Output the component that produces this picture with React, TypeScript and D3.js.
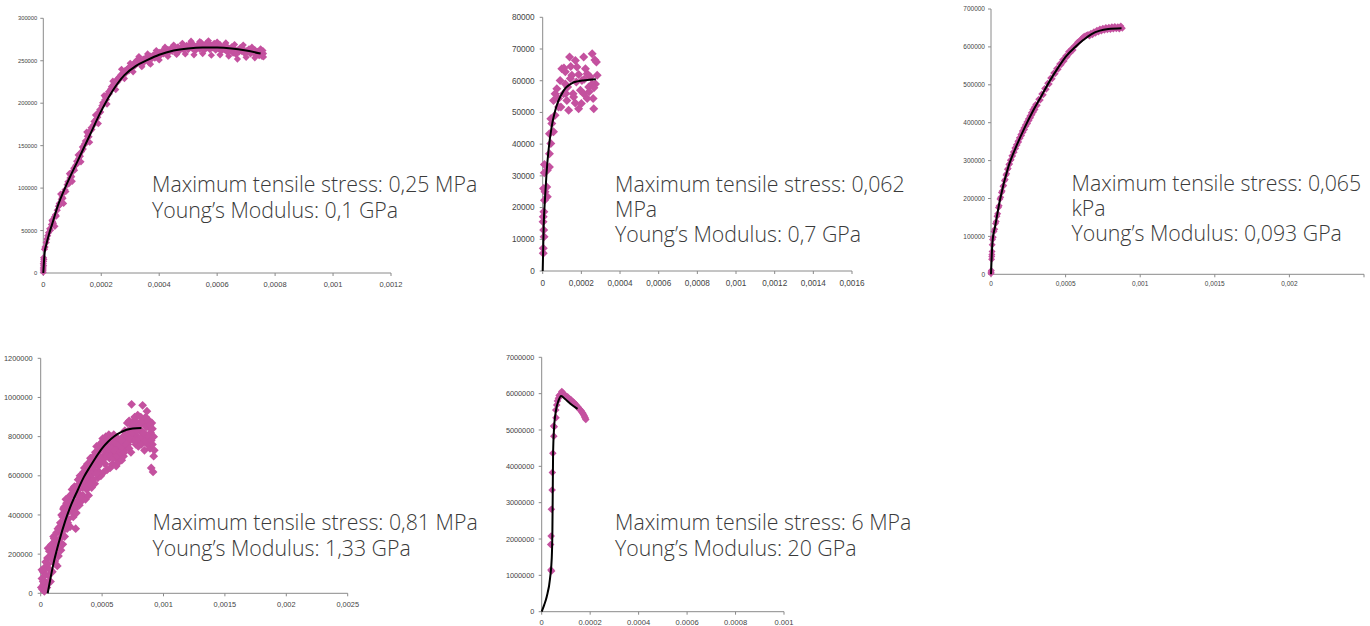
import React from 'react';
import * as d3 from 'd3';

// ---- data (strain, stress in Pa) ----

const p1Points: [number, number][] = [
  [0, 1000], [0, 3500], [0, 6000], [0.000001, 8500], [0, 11000], [0.000001, 13500], [0.000002, 16000], [0.000001, 18000], [0.000004, 28000], [0.000006, 30500],
  [0.00001, 36000], [0.000012, 40000], [0.000015, 44000], [0.000018, 47500], [0.000022, 52000], [0.000025, 50500], [0.000028, 57000], [0.000032, 60500], [0.000035, 58500], [0.000038, 66000],
  [0.000042, 68500], [0.000045, 67000], [0.000048, 74000], [0.000052, 78500], [0.000055, 82000], [0.000058, 80500], [0.000062, 87000], [0.000065, 89500], [0.000068, 88000], [0.000072, 95000],
  [0.000075, 98000], [0.000078, 96000], [0.000082, 104000], [0.000085, 107500], [0.000088, 105000], [0.000092, 112000], [0.000095, 115000], [0.000098, 113500], [0.000102, 120000], [0.000105, 123500],
  [0.000108, 121000], [0.000112, 127000], [0.000115, 131500], [0.000118, 129000], [0.000122, 135000], [0.000125, 140000], [0.000128, 137500], [0.000132, 143000], [0.000135, 148500], [0.000138, 146000],
  [0.000142, 152000], [0.000145, 155500], [0.000148, 153000], [0.000152, 161000], [0.000155, 164000], [0.000158, 160500], [0.000162, 167500], [0.000165, 171000], [0.000168, 169000], [0.000172, 174000],
  [0.000175, 178500], [0.000178, 176500], [0.000182, 181000], [0.000185, 185500], [0.000188, 183500], [0.000192, 190000], [0.000195, 192500], [0.000198, 189500], [0.000202, 197000], [0.000205, 200500],
  [0.000208, 198500], [0.000212, 204000], [0.000215, 207000], [0.000218, 204500], [0.000222, 210500], [0.000225, 213500], [0.000228, 211000], [0.000232, 216500], [0.000235, 219500], [0.000238, 217000],
  [0.000242, 222000], [0.000245, 220000], [0.000248, 225500], [0.000252, 227000], [0.000255, 224500], [0.000258, 229500], [0.000262, 231000], [0.000265, 228500], [0.000268, 233500], [0.000272, 235000],
  [0.000275, 232000], [0.000278, 236500], [0.000282, 238500], [0.000285, 235500], [0.000288, 240000], [0.000292, 241000], [0.000295, 238000], [0.000298, 242500], [0.000302, 244500], [0.000305, 241500],
  [0.000308, 245000], [0.000312, 246500], [0.000315, 243500], [0.000318, 248500], [0.000322, 250500], [0.000325, 247000], [0.000328, 249500], [0.000332, 251500], [0.000335, 248500], [0.000338, 250000],
  [0.00034, 245000], [0.000345, 252000], [0.00035, 249000], [0.000355, 254000], [0.00036, 251000], [0.000365, 247500], [0.00037, 255500], [0.000375, 252500], [0.00038, 257000], [0.000385, 253000],
  [0.00039, 258500], [0.000395, 255000], [0.0004, 260000], [0.000405, 256500], [0.00041, 261500], [0.000415, 258000], [0.00042, 262500], [0.000425, 259000], [0.00043, 263500], [0.000435, 260000],
  [0.00044, 264500], [0.000445, 261000], [0.00045, 265500], [0.000455, 262000], [0.00046, 264000], [0.000465, 266500], [0.00047, 261500], [0.000475, 265000], [0.00048, 267000], [0.000485, 262500],
  [0.00049, 266000], [0.000495, 268000], [0.0005, 263000], [0.000505, 267500], [0.00051, 271000], [0.000515, 264000], [0.00052, 268500], [0.000525, 262000], [0.00053, 266000], [0.000535, 269500],
  [0.00054, 263500], [0.000545, 271500], [0.00055, 267000], [0.000555, 262000], [0.00056, 270000], [0.000565, 265500], [0.00057, 271000], [0.000575, 263000], [0.00058, 268000], [0.000585, 265000],
  [0.00059, 270500], [0.000595, 262500], [0.0006, 267500], [0.000605, 264000], [0.00061, 269000], [0.000615, 261500], [0.00062, 266500], [0.000625, 263000], [0.00063, 268000], [0.000635, 260000],
  [0.00064, 265000], [0.000645, 262000], [0.00065, 266500], [0.000655, 259000], [0.00066, 264000], [0.000665, 257500], [0.00067, 262500], [0.000675, 260000], [0.00068, 265500], [0.000685, 261000],
  [0.00069, 263500], [0.000695, 258500], [0.0007, 262000], [0.000705, 260000], [0.00071, 264000], [0.000715, 258000], [0.00072, 261500], [0.000725, 259500], [0.00073, 263000], [0.000735, 257000],
  [0.00074, 261000], [0.000745, 256000], [0.00075, 260500], [0.000755, 255000], [0.00076, 258500], [0.000758, 262000],
  // upper and lower edge of the band
  [0.00003, 62000], [0.00006, 93000], [0.00009, 117000], [0.00012, 139000], [0.00015, 166000], [0.00018, 186000], [0.00021, 209000], [0.00024, 226000], [0.00027, 240000], [0.0003, 247000],
  [0.00033, 255000], [0.00036, 258000], [0.00039, 262000], [0.00042, 266000], [0.00045, 268500], [0.00048, 270500], [0.00051, 273000], [0.00054, 272500], [0.00057, 273500], [0.0006, 272000],
  [0.00063, 271000], [0.00066, 269000], [0.00069, 268500], [0.00072, 266000], [0.00075, 264000],
  [0.00004, 55000], [0.00007, 82000], [0.0001, 108000], [0.00013, 131000], [0.00016, 154000], [0.00019, 176000], [0.00022, 199000], [0.00025, 216000], [0.00028, 229000], [0.00031, 237000],
  [0.00034, 243000], [0.00037, 246000], [0.0004, 251000], [0.00043, 255000], [0.00046, 257500], [0.00049, 258000], [0.00052, 257000], [0.00055, 258500], [0.00058, 256500], [0.00061, 257000],
  [0.00064, 255500], [0.00067, 252000], [0.0007, 254000], [0.00073, 253500], [0.00076, 254500],
];
const p1TrendX = [0, 0.000005, 0.00001, 0.00002, 0.00003, 0.00005, 0.00008, 0.00012, 0.00016, 0.0002, 0.00024, 0.00028, 0.00032, 0.00036, 0.0004, 0.00045, 0.0005, 0.00055, 0.0006, 0.00065, 0.0007, 0.00075];
const p1TrendY = [0, 25000, 33000, 46000, 57000, 79000, 104000, 133000, 162000, 191000, 215000, 233000, 244000, 251000, 257000, 262000, 264500, 265500, 265500, 264500, 262000, 258500];
const p1XTicks = [0, 0.0002, 0.0004, 0.0006, 0.0008, 0.001, 0.0012];
const p1YTicks = [0, 50000, 100000, 150000, 200000, 250000, 300000];
const p1Notes = ['Maximum tensile stress: 0,25 MPa', 'Young\u2019s Modulus: 0,1 GPa'];

const p2Points: [number, number][] = [
  [0.000003, 5600], [0.000003, 7200], [0.000007, 10800], [0.000005, 12900], [0.000002, 15500], [0.000003, 17100], [0.000006, 18700], [0.000009, 22300], [0.000012, 25000], [0.000021, 26500],
  [0.000024, 23400], [0.000009, 33600], [0.000024, 31800], [0.000035, 32800], [0.000035, 37000], [0.000042, 40200], [0.000035, 43300], [0.000056, 43900], [0.000047, 46500], [0.000042, 48000],
  [0.000064, 49100], [0.000056, 53800], [0.000082, 54400], [0.000073, 57500], [0.00009, 60100], [0.000099, 63800], [0.000117, 62800], [0.000139, 67500], [0.000143, 60700], [0.000129, 58000],
  [0.000134, 50700], [0.000125, 53800], [0.000108, 55900], [0.00016, 54900], [0.000169, 66400], [0.000177, 64300], [0.000186, 51200], [0.000195, 57000], [0.000203, 60100], [0.000212, 67500],
  [0.000221, 63800], [0.00023, 54400], [0.000238, 58000], [0.000247, 61200], [0.000256, 68500], [0.000264, 51200], [0.000261, 54400], [0.000278, 65900], [0.000282, 61700], [0.000273, 59000],
  [0.000151, 61700], [0.000174, 59600], [0.000117, 59000], [0.000094, 51700], [0.000157, 55900], [0.000212, 55900], [0.00023, 62200], [0.000256, 59000], [0.000064, 55900], [0.000082, 51700],
  [0.000186, 62000], [0.00011, 64000], [0.000145, 64500], [0.0002, 52800], [0.00024, 56500], [0.000265, 57800], [0.00027, 66500], [0.000215, 60500], [0.000168, 53000], [0.00012, 56000],
  [0.000004, 26000], [0.000008, 31000],
];
const p2TrendX = [0, 0.000005, 0.000012, 0.00002, 0.00003, 0.000045, 0.00006, 0.00008, 0.0001, 0.00012, 0.00015, 0.00018, 0.00021, 0.00024, 0.000275];
const p2TrendY = [0, 14000, 23000, 31000, 38000, 45000, 49500, 53500, 56000, 57800, 59200, 59800, 60100, 60300, 60500];
const p2XTicks = [0, 0.0002, 0.0004, 0.0006, 0.0008, 0.001, 0.0012, 0.0014, 0.0016];
const p2YTicks = [0, 10000, 20000, 30000, 40000, 50000, 60000, 70000, 80000];
const p2Notes = ['Maximum tensile stress: 0,062', 'MPa', 'Young\u2019s Modulus: 0,7 GPa'];

const p3Points: [number, number][] = [
  [0, 2000], [0, 6000], [0.000002, 10000], [0.000001, 4000], [0.000004, 40000], [0.000006, 52000], [0.000007, 60000], [0.000005, 47000], [0.000008, 78000],
  [0.00001, 92000], [0.000015, 98000], [0.00002, 113000], [0.000025, 119000], [0.00003, 134000], [0.000035, 139000], [0.00004, 153000], [0.000045, 160000], [0.00005, 176000], [0.000055, 181000],
  [0.00006, 199000], [0.000065, 203000], [0.00007, 216000], [0.000075, 220000], [0.00008, 232000], [0.000085, 234000], [0.00009, 247000], [0.000095, 250000], [0.0001, 262000], [0.000105, 265000],
  [0.00011, 277000], [0.000115, 279000], [0.00012, 290000], [0.000125, 291000], [0.00013, 301000], [0.000135, 302000], [0.00014, 313000], [0.000145, 312000], [0.00015, 323000], [0.000155, 322000],
  [0.00016, 333000], [0.000165, 332000], [0.00017, 342000], [0.000175, 341000], [0.00018, 351000], [0.000185, 349000], [0.00019, 360000], [0.000195, 359000], [0.0002, 369000], [0.000205, 366000],
  [0.00021, 378000], [0.000215, 375000], [0.00022, 386000], [0.000225, 382000], [0.00023, 394000], [0.000235, 391000], [0.00024, 402000], [0.000245, 398000], [0.00025, 410000], [0.000255, 406000],
  [0.00026, 418000], [0.000265, 413000], [0.00027, 426000], [0.000275, 421000], [0.00028, 434000], [0.000285, 428000], [0.00029, 441000], [0.000295, 435000], [0.0003, 448000], [0.00031, 446000],
  [0.00032, 462000], [0.00033, 460000], [0.00034, 476000], [0.00035, 474000], [0.00036, 490000], [0.00037, 488000], [0.00038, 504000], [0.00039, 502000], [0.0004, 518000], [0.00041, 516000],
  [0.00042, 531000], [0.00043, 529000], [0.00044, 543000], [0.00045, 541000], [0.00046, 555000], [0.00047, 553000], [0.00048, 566000], [0.00049, 563000], [0.0005, 576000], [0.00051, 574000],
  [0.00052, 587000], [0.00053, 584000], [0.00054, 595000], [0.00055, 592000], [0.00056, 603000], [0.00057, 606000], [0.00058, 612000], [0.00059, 614000], [0.0006, 619000], [0.00061, 622000],
  [0.00062, 627000], [0.00063, 629000], [0.00064, 631000], [0.00065, 633000], [0.00066, 629000], [0.00067, 636000], [0.00068, 632000], [0.00069, 640000], [0.0007, 636000], [0.00071, 644000],
  [0.00072, 639000], [0.00073, 647000], [0.00074, 642000], [0.00075, 649000], [0.00076, 644000], [0.00077, 651000], [0.00078, 645000], [0.00079, 652000], [0.0008, 646000], [0.00081, 653000],
  [0.00082, 647000], [0.00083, 654000], [0.00084, 648000], [0.00085, 653000], [0.00086, 647000], [0.00087, 655000], [0.00088, 649000],
];
const p3TrendX = [0, 0.000005, 0.000011, 0.000027, 0.00006, 0.000116, 0.000172, 0.000228, 0.000283, 0.00034, 0.000395, 0.000451, 0.000507, 0.000563, 0.000618, 0.000674, 0.00073, 0.000786, 0.000875];
const p3TrendY = [0, 50000, 90000, 125000, 196000, 283000, 340000, 389000, 432000, 472000, 511000, 546000, 577000, 599000, 618000, 634000, 643000, 647000, 649000];
const p3XTicks = [0, 0.0005, 0.001, 0.0015, 0.002, 0.0025];
const p3YTicks = [0, 100000, 200000, 300000, 400000, 500000, 600000, 700000];
const p3Notes = ['Maximum tensile stress: 0,065', 'kPa', 'Young\u2019s Modulus: 0,093 GPa'];

const p4Points: [number, number][] = [
  [0.000005, 30000], [0.00001, 75000], [0.00002, 110000], [0.000015, 20000], [0.00003, 125000], [0.000035, 60000], [0.00004, 95000], [0.000045, 140000], [0.000025, 45000], [0.00005, 30000],
  [0.000055, 180000], [0.00006, 150000], [0.000065, 90000], [0.00007, 215000], [0.000075, 120000], [0.00008, 60000], [0.000085, 245000], [0.00009, 175000], [0.000095, 110000],
  [0.000105, 290000], [0.00011, 230000], [0.000115, 165000], [0.00012, 270000], [0.000125, 200000], [0.00013, 310000], [0.000135, 140000], [0.00014, 250000], [0.000145, 190000],
  [0.000155, 340000], [0.00016, 280000], [0.000165, 220000], [0.00017, 400000], [0.000175, 320000], [0.00018, 250000], [0.000185, 430000], [0.00019, 360000], [0.000195, 290000],
  [0.000205, 480000], [0.00021, 410000], [0.000215, 330000], [0.00022, 450000], [0.000225, 380000], [0.00023, 490000], [0.000235, 420000], [0.00024, 340000], [0.000245, 470000],
  [0.000255, 530000], [0.00026, 450000], [0.000265, 390000], [0.00027, 500000], [0.000275, 545000], [0.00028, 430000], [0.000285, 330000], [0.00029, 520000], [0.000295, 470000],
  [0.000305, 580000], [0.00031, 510000], [0.000315, 450000], [0.00032, 600000], [0.000325, 540000], [0.00033, 470000], [0.000335, 560000], [0.00034, 610000], [0.000345, 500000],
  [0.000355, 640000], [0.00036, 570000], [0.000365, 480000], [0.00037, 620000], [0.000375, 530000], [0.00038, 660000], [0.000385, 590000], [0.00039, 500000], [0.000395, 630000],
  [0.000405, 690000], [0.00041, 610000], [0.000415, 540000], [0.00042, 670000], [0.000425, 580000], [0.00043, 700000], [0.000435, 630000], [0.00044, 560000], [0.000445, 720000],
  [0.000455, 750000], [0.00046, 660000], [0.000465, 590000], [0.00047, 720000], [0.000475, 620000], [0.00048, 760000], [0.000485, 680000], [0.00049, 600000], [0.000495, 740000],
  [0.000505, 790000], [0.00051, 700000], [0.000515, 620000], [0.00052, 760000], [0.000525, 660000], [0.00053, 800000], [0.000535, 720000], [0.00054, 630000], [0.000545, 780000],
  [0.000555, 810000], [0.00056, 690000], [0.000565, 640000], [0.00057, 770000], [0.000575, 720000], [0.00058, 800000], [0.000585, 660000], [0.00059, 750000], [0.000595, 810000],
  [0.000605, 790000], [0.00061, 700000], [0.000615, 650000], [0.00062, 760000], [0.000625, 680000], [0.00063, 740000], [0.000635, 670000], [0.00064, 720000], [0.000645, 690000],
  [0.000655, 760000], [0.00066, 680000], [0.000665, 720000], [0.00067, 800000], [0.000675, 700000], [0.00068, 760000], [0.000685, 830000], [0.00069, 740000], [0.000695, 790000],
  [0.000705, 870000], [0.00071, 760000], [0.000715, 820000], [0.00072, 880000], [0.000725, 780000], [0.00073, 840000], [0.000735, 720000], [0.00074, 965000], [0.000745, 800000],
  [0.000755, 880000], [0.00076, 780000], [0.000765, 900000], [0.00077, 820000], [0.000775, 760000], [0.00078, 870000], [0.000785, 800000], [0.00079, 910000], [0.000795, 750000],
  [0.000805, 840000], [0.00081, 780000], [0.000815, 900000], [0.00082, 760000], [0.000825, 820000], [0.00083, 960000], [0.000835, 790000], [0.00084, 870000], [0.000845, 730000],
  [0.000855, 900000], [0.00086, 800000], [0.000865, 930000], [0.00087, 760000], [0.000875, 850000], [0.00088, 780000], [0.000885, 880000], [0.00089, 740000], [0.000895, 820000],
  [0.0009, 640000], [0.000905, 870000], [0.00091, 760000], [0.000915, 620000], [0.00092, 800000], [0.000925, 730000],
  // points filling the band
  [0.00001, 120000], [0.00002, 60000], [0.00003, 10000], [0.00004, 160000], [0.00006, 230000], [0.00007, 60000], [0.00008, 190000], [0.00009, 250000], [0.0001, 200000], [0.00011, 280000],
  [0.00012, 150000], [0.00013, 240000], [0.00014, 330000], [0.00015, 260000], [0.00016, 360000], [0.00017, 300000], [0.00018, 390000], [0.00019, 440000], [0.0002, 330000], [0.00021, 460000],
  [0.00022, 360000], [0.00023, 440000], [0.00024, 500000], [0.00025, 420000], [0.00026, 510000], [0.00027, 440000], [0.00028, 540000], [0.00029, 410000], [0.0003, 550000], [0.00031, 580000],
  [0.00032, 490000], [0.00033, 590000], [0.00034, 540000], [0.00035, 620000], [0.00036, 610000], [0.00037, 540000], [0.00038, 610000], [0.00039, 650000], [0.0004, 560000], [0.00041, 680000],
  [0.00042, 610000], [0.00043, 650000], [0.00044, 690000], [0.00045, 610000], [0.00046, 720000], [0.00047, 650000], [0.00048, 700000], [0.00049, 670000], [0.0005, 770000], [0.00051, 740000],
  [0.00052, 690000], [0.00053, 760000], [0.00054, 700000], [0.00055, 740000], [0.00056, 790000], [0.00057, 700000], [0.00058, 740000], [0.00059, 690000], [0.0006, 730000], [0.00061, 770000],
  [0.00062, 700000], [0.00063, 790000], [0.00064, 760000], [0.00065, 720000], [0.00066, 780000], [0.00067, 740000], [0.00068, 720000], [0.00069, 810000], [0.0007, 760000], [0.00071, 820000],
  [0.00072, 740000], [0.00073, 790000], [0.00074, 860000], [0.00075, 820000], [0.00076, 860000], [0.00077, 780000], [0.00078, 830000], [0.00079, 870000], [0.0008, 790000], [0.00081, 860000],
  [0.00082, 800000], [0.00083, 880000], [0.00084, 820000], [0.00085, 780000], [0.00086, 850000], [0.00087, 880000], [0.00088, 800000], [0.00089, 860000], [0.0009, 780000], [0.00091, 840000],
  [0.00092, 700000],
];
const p4TrendX = [0.000057, 0.0001, 0.00015, 0.0002, 0.00025, 0.0003, 0.00035, 0.0004, 0.00045, 0.0005, 0.00055, 0.0006, 0.00065, 0.0007, 0.00075, 0.00082];
const p4TrendY = [0, 140000, 265000, 370000, 455000, 525000, 592000, 645000, 695000, 740000, 775000, 802000, 822000, 835000, 842000, 844000];
const p4XTicks = [0, 0.0005, 0.001, 0.0015, 0.002, 0.0025];
const p4YTicks = [0, 200000, 400000, 600000, 800000, 1000000, 1200000];
const p4Notes = ['Maximum tensile stress: 0,81 MPa', 'Young\u2019s Modulus: 1,33 GPa'];

const p5Points: [number, number][] = [
  [0.000041, 1120000], [0.000038, 1150000], [0.000037, 1850000], [0.000039, 2080000], [0.00004, 2820000], [0.000043, 3350000], [0.000044, 3830000], [0.000046, 4360000], [0.00005, 4830000], [0.000052, 5090000],
  [0.000049, 5110000], [0.000059, 5340000], [0.000058, 5550000], [0.000062, 5690000], [0.000065, 5800000], [0.000069, 5870000], [0.000072, 5950000], [0.000076, 5960000], [0.00008, 6000000], [0.000083, 6060000],
  [0.000087, 6020000], [0.000092, 5980000], [0.000096, 5950000], [0.0001, 5930000], [0.000103, 5900000], [0.000107, 5910000], [0.00011, 5870000], [0.000114, 5860000], [0.000117, 5840000], [0.000121, 5830000],
  [0.000124, 5790000], [0.000128, 5780000], [0.000131, 5750000], [0.000135, 5740000], [0.000138, 5710000], [0.000142, 5690000], [0.000145, 5650000], [0.000149, 5640000], [0.000152, 5600000], [0.000156, 5580000],
  [0.000159, 5550000], [0.000163, 5530000], [0.000166, 5490000], [0.000169, 5470000], [0.000172, 5430000], [0.000175, 5400000], [0.000177, 5360000], [0.00018, 5330000], [0.000182, 5290000],
];
const p5TrendX = [0, 0.00001, 0.0000207, 0.0000345, 0.0000414, 0.0000441, 0.0000455, 0.0000469, 0.000051, 0.0000593, 0.000069, 0.00008, 0.0000966, 0.000117, 0.000148];
const p5TrendY = [0, 180000, 413000, 917000, 1468000, 2200000, 3210000, 4310000, 5050000, 5550000, 5800000, 5936000, 5850000, 5730000, 5580000];
const p5XTicks = [0, 0.0002, 0.0004, 0.0006, 0.0008, 0.001];
const p5YTicks = [0, 1000000, 2000000, 3000000, 4000000, 5000000, 6000000, 7000000];
const p5Notes = ['Maximum tensile stress: 6 MPa', 'Young\u2019s Modulus: 20 GPa'];

// ---- layout ----
const MARKER = '#c4519f';
const AXIS = '#8a8a8a';
const LABEL = '#444';

const panels = [
  { pts: p1Points, tx: p1TrendX, ty: p1TrendY, xt: p1XTicks, yt: p1YTicks, notes: p1Notes, sep: ',',
    left: 43.3, right: 391, bottom: 273, top: 18.3, r: 3.6, yFont: 5.8, xFont: 7.5, xLab: 11.6, yGap: 6, noteX: 152, noteY: 192, noteDy: 26, hideLast: false },
  { pts: p2Points, tx: p2TrendX, ty: p2TrendY, xt: p2XTicks, yt: p2YTicks, notes: p2Notes, sep: ',',
    left: 542.7, right: 852, bottom: 271, top: 17.3, r: 4.5, yFont: 8.2, xFont: 8.2, xLab: 12.3, yGap: 8, noteX: 615, noteY: 192, noteDy: 25, hideLast: false },
  { pts: p3Points, tx: p3TrendX, ty: p3TrendY, xt: p3XTicks, yt: p3YTicks, notes: p3Notes, sep: ',',
    left: 991, right: 1364, bottom: 274.3, top: 9, r: 3.5, yFont: 6.5, xFont: 6.5, xLab: 9.4, yGap: 6, noteX: 1071.5, noteY: 191, noteDy: 25, hideLast: true },
  { pts: p4Points, tx: p4TrendX, ty: p4TrendY, xt: p4XTicks, yt: p4YTicks, notes: p4Notes, sep: ',',
    left: 40.7, right: 347.7, bottom: 593.3, top: 358.3, r: 4.4, yFont: 7.4, xFont: 7.4, xLab: 10.7, yGap: 8, noteX: 152.5, noteY: 530, noteDy: 25.7, hideLast: false },
  { pts: p5Points, tx: p5TrendX, ty: p5TrendY, xt: p5XTicks, yt: p5YTicks, notes: p5Notes, sep: '.',
    left: 541.7, right: 784, bottom: 611.7, top: 357.3, r: 3.8, yFont: 7.3, xFont: 7.6, xLab: 10.5, yGap: 7.4, noteX: 615, noteY: 530, noteDy: 25.7, hideLast: false },
];

const fmt = (v: number, sep: string) => (v === 0 ? '0' : String(v).replace('.', sep));
const diamond = (r: number) => `M0,${-r}L${r},0L0,${r}L${-r},0Z`;

function Panel({ p }: { p: typeof panels[number] }) {
  const x = d3.scaleLinear().domain([0, p.xt[p.xt.length - 1]]).range([p.left, p.right]);
  const y = d3.scaleLinear().domain([0, p.yt[p.yt.length - 1]]).range([p.bottom, p.top]);
  const trend = d3.line<number>()
    .x((_, i) => x(p.tx[i]))
    .y(d => y(d))
    .curve(d3.curveMonotoneX)(p.ty);
  const mark = diamond(p.r);

  return (
    <g>
      {/* axes */}
      <line x1={p.left} x2={p.left} y1={p.top} y2={p.bottom} stroke={AXIS} strokeWidth={1} />
      <line x1={p.left} x2={p.right} y1={p.bottom} y2={p.bottom} stroke={AXIS} strokeWidth={1} />
      {p.yt.map(t => (
        <g key={'y' + t}>
          <line x1={p.left - 3} x2={p.left} y1={y(t)} y2={y(t)} stroke={AXIS} />
          <text x={p.left - p.yGap} y={y(t)} dy="0.35em" textAnchor="end" fontSize={p.yFont} fill={LABEL}
            fontFamily="'Liberation Sans', Arial, sans-serif">{fmt(t, p.sep)}</text>
        </g>
      ))}
      {p.xt.map((t, i) => (
        <g key={'x' + t}>
          <line x1={x(t)} x2={x(t)} y1={p.bottom} y2={p.bottom + 3} stroke={AXIS} />
          {!(p.hideLast && i === p.xt.length - 1) && (
            <text x={x(t)} y={p.bottom + p.xLab} dy="0.35em" textAnchor="middle" fontSize={p.xFont} fill={LABEL}
              fontFamily="'Liberation Sans', Arial, sans-serif">{fmt(t, p.sep)}</text>
          )}
        </g>
      ))}
      {/* measured points */}
      {p.pts.map((d, i) => (
        <path key={i} d={mark} transform={`translate(${x(d[0])},${y(d[1])})`} fill={MARKER} />
      ))}
      {/* fitted curve */}
      <path d={trend ?? ''} fill="none" stroke="#000" strokeWidth={2} />
      {/* annotation */}
      {p.notes.map((s, i) => (
        <text key={s} x={p.noteX} y={p.noteY + i * p.noteDy} fontSize={21.3} fontWeight={300}
          fontFamily="'Open Sans', sans-serif" fill="#3a3a3a">{s}</text>
      ))}
    </g>
  );
}

export default function App() {
  return (
    <svg width={1370} height={626} style={{ position: 'absolute', left: 0, top: 0, background: '#fff' }}>
      {panels.map((p, i) => <Panel key={i} p={p} />)}
    </svg>
  );
}
